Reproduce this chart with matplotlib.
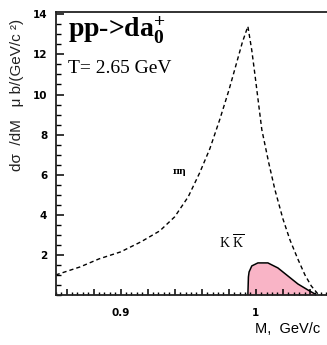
import numpy as np
import matplotlib
matplotlib.use("Agg")
import matplotlib.pyplot as plt
from matplotlib.ticker import MultipleLocator, FixedLocator, FuncFormatter

plt.rcParams['mathtext.fontset'] = 'custom'
plt.rcParams['mathtext.rm'] = 'Liberation Serif'
plt.rcParams['mathtext.it'] = 'Liberation Serif:italic'
plt.rcParams['mathtext.bf'] = 'Liberation Serif:bold'

# pi-eta invariant mass spectrum (dashed curve)
m_pieta = [0.852, 0.870, 0.884, 0.900, 0.915, 0.929, 0.940, 0.950, 0.9585,
           0.966, 0.9733, 0.980, 0.9844, 0.990, 0.9941, 0.997, 0.9993,
           1.0044, 1.0095, 1.0141, 1.020, 1.0252, 1.031, 1.0363, 1.041, 1.0459]
s_pieta = [1.0, 1.4, 1.8, 2.15, 2.65, 3.2, 3.9, 4.9, 6.1,
           7.3, 8.75, 10.2, 11.25, 12.6, 13.4, 12.2, 11.0,
           8.25, 6.6, 5.25, 3.8, 2.75, 1.8, 1.0, 0.45, 0.05]

# K Kbar invariant mass spectrum (filled curve)
m_kk = [0.9941, 0.9945, 0.995, 0.997, 1.0015, 1.0089, 1.0163, 1.0237,
        1.0311, 1.0385, 1.0437]
s_kk = [0.0, 0.9, 1.15, 1.45, 1.6, 1.6, 1.35, 0.95, 0.55, 0.25, 0.05]

W, H = 327, 345
fig = plt.figure(figsize=(W / 100, H / 100), dpi=100)

left, right, bottom, top = 55.7, 337, 295, 12.3
ax = fig.add_axes([left / W, 1 - bottom / H, (right - left) / W, (bottom - top) / H])
ax.set_xlim(0.852, 1.06)
ax.set_ylim(0, 14.1)

ax.fill_between(m_kk, s_kk, 0, color='#f9b4c6', lw=0)
ax.plot(m_kk, s_kk, color='black', lw=1.1)
ax.plot(m_pieta, s_pieta, color='black', lw=1.0, dashes=(3, 2.2))

for sp in ax.spines.values():
    sp.set_linewidth(1.3)
    sp.set_color('#222222')

# y axis ticks
ax.yaxis.set_major_locator(FixedLocator([2, 4, 6, 8, 10, 12, 14]))
ax.yaxis.set_minor_locator(MultipleLocator(0.5))
ax.tick_params(axis='y', which='major', direction='in', length=6, width=1.1,
               pad=6, labelsize=7.5)
ax.tick_params(axis='y', which='minor', direction='in', length=3.5, width=1.0)

# x axis ticks
ax.xaxis.set_major_locator(MultipleLocator(0.02))
ax.xaxis.set_minor_locator(MultipleLocator(0.004))
ax.xaxis.set_major_formatter(FuncFormatter(
    lambda v, p: ('0.9' if abs(v - 0.9) < 1e-6 else '1' if abs(v - 1.0) < 1e-6 else '')))
ax.tick_params(axis='x', which='major', direction='in', length=4, width=1.1,
               pad=9, labelsize=7.5)
ax.tick_params(axis='x', which='minor', direction='in', length=2, width=1.0)
ax.tick_params(top=False, right=False)
for lab in ax.get_xticklabels() + ax.get_yticklabels():
    lab.set_fontweight('bold')

# Titles and labels
fig.text(68 / W, 1 - 37 / H, r"pp->da$_\mathbf{0}^\mathbf{+}$", family='Liberation Serif',
         fontweight='bold', fontsize=20, ha='left', va='baseline')
fig.text(68 / W, 1 - 73 / H, "T= 2.65 GeV", family='Liberation Serif',
         fontsize=14, ha='left', va='baseline')
fig.text(17 / W, 1 - 95 / H, "dσ  /dM   μ b/(GeV/c ²)", family='Liberation Sans',
         fontsize=11, rotation=90, ha='center', va='center', color='#222222')
fig.text(255 / W, 1 - 333 / H, "M,  GeV/c", family='Liberation Sans',
         fontsize=10.5, ha='left', va='baseline')

ax.text(0.9437, 6.15, "πη", family='DejaVu Serif', fontsize=7,
        fontweight='bold', ha='center', va='center')
ax.text(0.982, 2.6, r"K $\overline{\mathrm{K}}$", family='Liberation Serif',
        fontsize=10, ha='center', va='center')

fig.savefig("out.png", dpi=100)
